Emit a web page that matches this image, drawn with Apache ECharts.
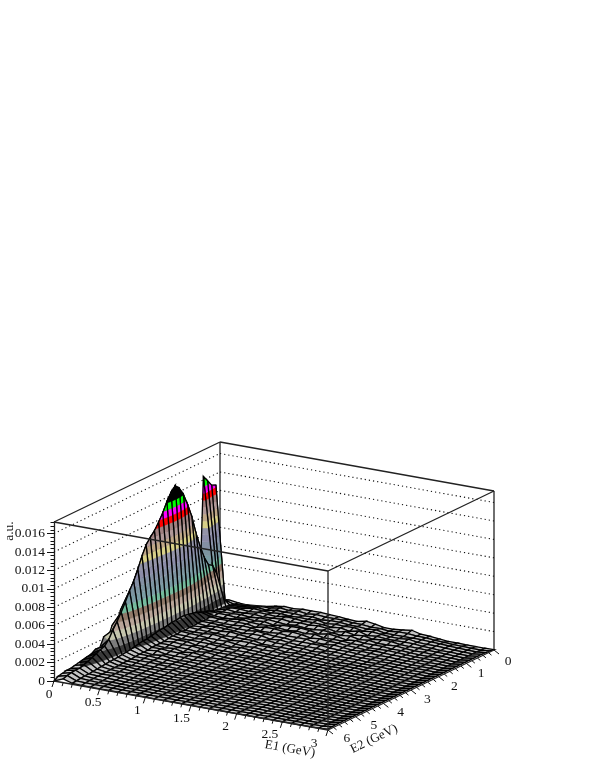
<!DOCTYPE html>
<html>
<head>
<meta charset="utf-8">
<script src="https://cdn.jsdelivr.net/npm/echarts@6/dist/echarts.min.js"></script>
<style>
  html, body { margin: 0; background: #fff; }
  #chart { width: 591px; height: 765px; }
</style>
</head>
<body>
<div id="chart"></div>
<script>
// node positions
const e1Nodes = [0,0.1,0.2,0.3,0.4,0.5,0.6,0.7,0.8,0.9,1,1.1,1.2,1.3,1.4,1.5,1.6,1.7,1.8,1.9,2,2.1,2.2,2.3,2.4,2.5,2.6,2.7,2.8,2.9,3];
const e2Nodes = [0,0.15,0.3,0.45,0.6,0.75,0.9,1.05,1.2,1.35,1.5,1.65,1.8,1.95,2.1,2.25,2.4,2.55,2.7,2.85,3,3.15,3.3,3.45,3.6,3.75,3.9,4.05,4.2,4.35,4.5,4.65,4.8,4.95,5.1,5.25,5.4,5.55,5.7,5.85,6];

// height per node, in units of 1e-4. One row per E1 node, one column per E2 node
const zRows = [
  [2,128,130,137,144,2,30,42,52,62,72,84,90,92,90,72,84,66,72,58,62,46,54,36,42,26,30,18,22,12,13,10,9,8,7,6,5,5,4,3,0],
  [3,5,12,38,49,52,62,76,93,113,128,141,150,155,150,142,132,124,117,112,106,96,84,73,65,55,46,38,31,23,18,16,14,12,10,8.5,7,7,6.5,5.5,4],
  [1.5,2,3,4,4.5,5,6,8,9,11,13,14,15,16,16,15,15,14,13,13,12,11,10,10,9,8,7,6.5,6,5.5,5,5,4.5,4,3.5,3,2.5,2.5,2,1.5,1],
  [1,3,4,5,6.5,7,6.5,7,6.5,8,6.5,7,7,6.5,7,6,7,6,6.5,6,5,5,5,5,4,4,4,3.5,3,3,3,2.5,2.5,2.5,2,2,2,1.5,1.5,1,0.5],
  [2,4,5,6,7,6,6.5,7,6,7,6.5,7,6,7,6.5,6,6.5,6,5,6,6,5,4,5,5,3,4,3.5,3,3,2,3,2.5,2,2,2,1.5,1,1,1,0.5],
  [3,5,6,7,6,6.5,7,6,6.5,7,6,6.5,7,6.5,6,6,6,5,5.5,6,5,4,5,4,3,4,3,3,3,2,2.5,2,2,2,1.5,1.5,1,1,0.8,0.8,0.4],
  [5,5,5,6.5,7,7,6,7,8,7,6,6,6.5,6,6,7,5,6,5,4,5,4,3,4,3,3,3,2,2.5,2,2,2,1.5,1.5,1,1,0.8,0.8,0.6,0.6,0.4],
  [6.5,7,6.5,6,6.5,6,7,6,6.5,7,7,6,6,7,5,6,5,4,5,4,4,3,4,3,3,2,2.5,2.5,2,1.5,2,1.5,1.5,1,1,0.8,0.8,0.6,0.6,0.5,0.3],
  [6,6,6.5,7,6,6.5,7,7,6,5,6.5,6,5,6,5,4,5,4,4,3,3,4,3,3,2,2.5,2,2,1.5,2,1.5,1,1,1,0.8,0.8,0.6,0.6,0.5,0.5,0.3],
  [7,7,6.5,6,8,7,6,5,6.5,7,5,7,6,5,5,5,4,3,4,3,3,3,2,2.5,2.5,2,1.5,2,1.5,1,1,1,0.8,0.8,0.8,0.5,0.5,0.4,0.4,0.4,0.3],
  [7,6,6,6.5,7,6,5,6.5,6,7,5,6,6,4,5,5,3,4,3,3,3,2,2.5,2.5,2,1.5,1.5,1.5,1,1,1,0.8,0.8,0.8,0.6,0.6,0.5,0.4,0.4,0.3,0.3],
  [7.2,7,6.5,6,6,6.5,6,7,5,6,6,5,4,5,3,4,4,3,3,2,2.5,2,2,1.5,1.5,1.5,1,1,1,0.8,0.8,0.8,0.6,0.6,0.5,0.4,0.4,0.3,0.3,0.3,0.2],
  [6.5,6,5,7,6.5,6,5,7,6,7,5,5,5,4,3,4,3,3,2.5,2,2.5,2,1.5,1.5,1,1,1.2,1,1,0.8,0.8,0.6,0.6,0.5,0.5,0.5,0.4,0.3,0.3,0.3,0.2],
  [6,6,6,5,6,7,5,6,5,6,5,4,4,4,3,3,3,2,2.5,2,2,1.5,1.5,1,1,1.2,1,0.8,0.8,0.8,0.6,0.6,0.5,0.5,0.5,0.4,0.3,0.3,0.2,0.2,0.2],
  [5,6,6,6,5,6,6,4,6,4,5,4,3,3,3,2,2.5,2,2,1.5,1.5,1.5,1,1,1.2,1,0.8,0.8,0.8,0.6,0.5,0.5,0.5,0.4,0.3,0.3,0.3,0.2,0.2,0.2,0.2],
  [4.5,5,5,5.5,6,4,5,6,4,5,3,4,3,3,2,2.5,2,2,1.5,1.5,1.5,1,1,1,1.2,1,0.8,0.8,0.6,0.6,0.5,0.5,0.4,0.4,0.3,0.3,0.3,0.2,0.2,0.2,0.2],
  [6.5,5,5,6,4,6,4,5,4,4,3,4,3,2,2.5,2,2,1.5,1.5,1.5,1,1,1,1,1,0.8,0.8,0.8,0.6,0.5,0.5,0.5,0.4,0.3,0.3,0.3,0.2,0.2,0.2,0.2,0.1],
  [5,4,4,4,6,4,5,3,4,4,4,3,2,2.5,2,2,1.5,1.5,1.5,1,1,1,1,0.8,0.8,0.8,0.6,0.5,0.5,0.5,0.4,0.3,0.3,0.3,0.2,0.2,0.2,0.2,0.1,0.1,0.1],
  [3,4,5,5,3,5,3,4,3,3,3,2.5,2.5,2,1.5,1.5,1.5,1,1,1,1,0.8,0.8,0.6,0.6,0.5,0.5,0.5,0.4,0.3,0.3,0.3,0.2,0.2,0.2,0.2,0.1,0.1,0.1,0.1,0.1],
  [3,3,3,4,4,3,4,3,3,2.5,2,2.5,2,1.5,1.5,1.5,1,1,1,1,0.8,0.8,0.6,0.6,0.5,0.5,0.5,0.4,0.3,0.3,0.3,0.2,0.2,0.2,0.2,0.1,0.1,0.1,0.1,0.1,0.1],
  [4,4,3,3,3,4,2.5,3,2,2,2.5,2,1.5,1.5,1.5,1,1,1,1,0.8,0.8,0.6,0.6,0.5,0.5,0.5,0.4,0.3,0.3,0.3,0.2,0.2,0.2,0.2,0.1,0.1,0.1,0.1,0.1,0.1,0.1],
  [5.5,4,3,3,3,4,2.5,3,2,2.5,2,1.5,1.5,1.5,1,1,1,1,0.8,0.8,0.6,0.6,0.5,0.5,0.5,0.4,0.3,0.3,0.3,0.2,0.2,0.2,0.2,0.1,0.1,0.1,0.1,0.1,0.1,0.1,0.1],
  [3,3,3,4,3,2.5,3,2,2.5,2,1.5,1.5,1.5,1,1,1,1,0.8,0.8,0.6,0.6,0.5,0.5,0.5,0.4,0.3,0.3,0.3,0.2,0.2,0.2,0.2,0.1,0.1,0.1,0.1,0.1,0.1,0.1,0.1,0.1],
  [2.5,3,3,2.5,3,2,2,2,2,1.5,1.5,1,1,1,1,0.8,0.8,0.8,0.6,0.5,0.5,0.5,0.4,0.3,0.3,0.3,0.2,0.2,0.2,0.2,0.1,0.1,0.1,0.1,0.1,0.1,0.1,0.1,0.1,0.1,0.1],
  [1.5,2,2.5,2,2,2,1.5,1.5,1.5,1.5,1,1,1,1,0.8,0.8,0.6,0.5,0.5,0.5,0.4,0.4,0.3,0.3,0.2,0.2,0.2,0.2,0.1,0.1,0.1,0.1,0.1,0.1,0.1,0.1,0.1,0.1,0.1,0.1,0.1],
  [0.5,1.5,2,2,1.5,1.5,1.5,1,1,1,1,1,0.8,0.8,0.6,0.5,0.5,0.5,0.4,0.3,0.3,0.3,0.2,0.2,0.2,0.2,0.1,0.1,0.1,0.1,0.1,0.1,0.1,0.1,0.1,0.1,0.1,0.1,0.1,0.1,0.1],
  [0.5,1,1.5,1.5,1,1.5,1,1,1,0.8,0.8,0.6,0.6,0.6,0.5,0.4,0.4,0.3,0.3,0.3,0.2,0.2,0.2,0.1,0.1,0.1,0.1,0.1,0.1,0.1,0.1,0.1,0.1,0.1,0.1,0.1,0.1,0.1,0.1,0.1,0.1],
  [0.3,0.8,1,1,1,1,0.8,0.8,0.8,0.6,0.6,0.5,0.5,0.5,0.4,0.4,0.3,0.3,0.2,0.2,0.2,0.1,0.1,0.1,0.1,0.1,0.1,0.1,0.1,0.1,0.1,0.1,0.1,0.1,0.1,0.1,0.1,0.1,0.1,0.1,0.1],
  [0.2,0.5,0.6,0.8,0.6,0.6,0.6,0.5,0.5,0.5,0.5,0.4,0.4,0.3,0.3,0.3,0.2,0.2,0.2,0.2,0.1,0.1,0.1,0.1,0.1,0.1,0.1,0.1,0.1,0.1,0.1,0.1,0.1,0.1,0.1,0.1,0.1,0.1,0.1,0.1,0.1],
  [0.2,0.3,0.4,0.5,0.5,0.4,0.4,0.4,0.4,0.4,0.3,0.3,0.3,0.3,0.3,0.3,0.2,0.2,0.2,0.2,0.2,0.2,0.2,0.2,0.2,0.2,0.2,0.2,0.2,0.2,0.2,0.2,0.2,0.2,0.2,0.2,0.2,0.2,0.2,0.2,0.2],
  [0.3,1.2,1.5,1.8,1.8,1.8,1.8,1.8,1.8,1.8,1.8,1.8,1.8,1.8,1.8,1.8,1.8,1.8,1.8,1.8,1.8,1.8,1.8,1.8,1.8,1.8,1.8,1.8,1.8,1.8,1.8,1.8,1.8,1.8,1.8,1.8,1.8,1.8,1.8,1.5,1]
];

// contour bands, bottom to top, each 7.4e-4 tall
const bandStep = 7.4;
const bandColors = ['#c4c4c4','#3a3a3a','#7c7c7c','#c4c4ac','#b8a498','#8f7868','#74ba9c','#7a9ca4','#7c94a0','#8490a4','#8c8ca8','#9494a8','#d8d088','#c0a888','#b09898','#a08080','#ff0000','#ff00ff','#00ff00','#000000'];

const zTicks = [0,0.002,0.004,0.006,0.008,0.01,0.012,0.014,0.016];
const e1Ticks = [0,0.1,0.2,0.3,0.4,0.5,0.6,0.7,0.8,0.9,1,1.1,1.2,1.3,1.4,1.5,1.6,1.7,1.8,1.9,2,2.1,2.2,2.3,2.4,2.5,2.6,2.7,2.8,2.9,3];
const e1Labels = ['0','0.5','1','1.5','2','2.5','3'];
const e2Ticks = [0,0.2,0.4,0.6,0.8,1,1.2,1.4,1.6,1.8,2,2.2,2.4,2.6,2.8,3,3.2,3.4,3.6,3.8,4,4.2,4.4,4.6,4.8,5,5.2,5.4,5.6,5.8,6];
const e2Labels = ['0','1','2','3','4','5','6'];

const e1Max = 3, e2Max = 6, zMax = 0.01725;
const font = '"Liberation Serif", serif';

// oblique projection: api.coord gives E1 across and z up, E2 is a shear on top of it
function project(api, e1, e2, z) {
  const p = api.coord([e1, z]);
  const back = (e2Max - e2) / e2Max;
  return [p[0] + 166 * back, p[1] + 49 * e1 / e1Max - 80 * back];
}

// cut a polygon of [e1,e2,z] to lo <= z <= hi
function clipBand(poly, lo, hi) {
  function cut(pts, keep, level) {
    const out = [];
    for (let n = 0; n < pts.length; n++) {
      const a = pts[n], b = pts[(n + 1) % pts.length];
      const ka = keep(a[2]), kb = keep(b[2]);
      if (ka) out.push(a);
      if (ka !== kb) {
        const t = (level - a[2]) / (b[2] - a[2]);
        out.push([a[0] + t * (b[0] - a[0]), a[1] + t * (b[1] - a[1]), level]);
      }
    }
    return out;
  }
  let res = cut(poly, v => v >= lo, lo);
  if (res.length) res = cut(res, v => v <= hi, hi);
  return res;
}

function renderCell(params, api) {
  const i = api.value(0), k = api.value(1);
  const quad = [[i, k], [i + 1, k], [i + 1, k + 1], [i, k + 1]].map(c => [e1Nodes[c[0]], e2Nodes[c[1]], zRows[c[0]][c[1]]]);
  const children = [];
  bandColors.forEach((color, b) => {
    const lo = b * bandStep;
    const hi = b === bandColors.length - 1 ? 1e9 : (b + 1) * bandStep;
    const part = clipBand(quad, lo, hi);
    if (part.length > 2) {
      children.push({
        type: 'polygon',
        shape: { points: part.map(q => project(api, q[0], q[1], q[2] * 1e-4)) },
        style: { fill: color, stroke: color, lineWidth: 0.4 },
        silent: true
      });
    }
  });
  children.push({
    type: 'polygon',
    shape: { points: quad.map(q => project(api, q[0], q[1], q[2] * 1e-4)) },
    style: { fill: 'none', stroke: '#000', lineWidth: 1.3 },
    silent: true
  });
  return { type: 'group', children };
}

// straight pieces of the box: [e1a,e2a,za,e1b,e2b,zb,dashed]
function renderEdge(params, api) {
  const a = project(api, api.value(0), api.value(1), api.value(2));
  const b = project(api, api.value(3), api.value(4), api.value(5));
  const dashed = api.value(6) === 1;
  return {
    type: 'line',
    shape: { x1: a[0], y1: a[1], x2: b[0], y2: b[1] },
    style: dashed ? { stroke: '#111', lineWidth: 1.1, lineDash: [1.2, 3] } : { stroke: '#222', lineWidth: 1.3 },
    silent: true
  };
}

const backEdges = [
  [0, 0, 0, 0, 0, zMax, 0],
  [0, 0, zMax, 0, e2Max, zMax, 0],
  [0, 0, zMax, e1Max, 0, zMax, 0],
  [e1Max, 0, 0, e1Max, 0, zMax, 0]
];
zTicks.slice(1).forEach(t => {
  backEdges.push([0, e2Max, t, 0, 0, t, 1]);
  backEdges.push([0, 0, t, e1Max, 0, t, 1]);
});
const frontEdges = [
  [0, e2Max, zMax, e1Max, e2Max, zMax, 0],
  [e1Max, e2Max, zMax, e1Max, 0, zMax, 0],
  [e1Max, e2Max, 0, e1Max, e2Max, zMax, 0],
  [0, e2Max, 0, e1Max, e2Max, 0, 0],
  [e1Max, e2Max, 0, e1Max, 0, 0, 0]
];

const cells = [];
for (let i = 0; i < e1Nodes.length - 1; i++) {
  for (let k = 0; k < e2Nodes.length - 1; k++) cells.push([i, k]);
}

function isMajor(v) { return Math.abs(v * 2 - Math.round(v * 2)) < 1e-6; }

function renderE1Tick(params, api) {
  const v = api.value(0);
  const p = project(api, v, e2Max, 0);
  const major = isMajor(v);
  return {
    type: 'line',
    shape: { x1: p[0], y1: p[1], x2: p[0] - (major ? 2 : 1), y2: p[1] + (major ? 6 : 3.5) },
    style: { stroke: '#111', lineWidth: 1 },
    silent: true
  };
}
function renderE2Tick(params, api) {
  const v = api.value(0);
  const p = project(api, e1Max, v, 0);
  const major = Number.isInteger(v);
  return {
    type: 'line',
    shape: { x1: p[0], y1: p[1], x2: p[0] + (major ? 5 : 3), y2: p[1] + (major ? 4 : 2.5) },
    style: { stroke: '#111', lineWidth: 1 },
    silent: true
  };
}
function renderE1Label(params, api) {
  const v = api.value(0);
  const p = project(api, v, e2Max, 0);
  return {
    type: 'text',
    style: { text: e1Labels[params.dataIndex], x: p[0] - 5 - 3 * v, y: p[1] + 13, font: '13.5px ' + font, fill: '#111', align: 'center', verticalAlign: 'middle' },
    silent: true
  };
}
function renderE2Label(params, api) {
  const v = api.value(0);
  const p = project(api, e1Max, v, 0);
  return {
    type: 'text',
    style: { text: e2Labels[params.dataIndex], x: p[0] + 14 + 0.83 * v, y: p[1] + 11 - 0.5 * v, font: '13.5px ' + font, fill: '#111', align: 'center', verticalAlign: 'middle' },
    silent: true
  };
}

const chart = echarts.init(document.getElementById('chart'), null, { renderer: 'canvas' });
chart.setOption({
  animation: false,
  backgroundColor: '#fff',
  grid: { left: 54, top: 522, width: 274, height: 159, containLabel: false },
  xAxis: { type: 'value', min: 0, max: e1Max, show: false },
  yAxis: {
    type: 'value',
    min: 0,
    max: zMax,
    interval: 0.002,
    axisLine: { show: true, lineStyle: { color: '#222', width: 1.3 } },
    axisTick: { show: true, length: 7, customValues: zTicks, lineStyle: { color: '#111' } },
    minorTick: { show: true, splitNumber: 5, length: 3.5, lineStyle: { color: '#111' } },
    axisLabel: { margin: 9, fontFamily: font, fontSize: 13.5, color: '#111', customValues: zTicks, formatter: v => String(v) },
    splitLine: { show: false }
  },
  series: [
    { type: 'custom', z: 1, renderItem: renderEdge, data: backEdges, clip: false, silent: true },
    { type: 'custom', z: 2, renderItem: renderCell, data: cells, clip: false, silent: true },
    { type: 'custom', z: 3, renderItem: renderEdge, data: frontEdges, clip: false, silent: true },
    { type: 'custom', z: 3, renderItem: renderE1Tick, data: e1Ticks.map(v => [v]), clip: false, silent: true },
    { type: 'custom', z: 3, renderItem: renderE2Tick, data: e2Ticks.map(v => [v]), clip: false, silent: true },
    { type: 'custom', z: 3, renderItem: renderE1Label, data: e1Labels.map(s => [Number(s)]), clip: false, silent: true },
    { type: 'custom', z: 3, renderItem: renderE2Label, data: e2Labels.map(s => [Number(s)]), clip: false, silent: true }
  ],
  graphic: [
    { type: 'text', x: 9, y: 531, rotation: Math.PI / 2, style: { text: 'a.u.', font: '13.5px ' + font, fill: '#111', align: 'center', verticalAlign: 'middle' } },
    { type: 'text', x: 290, y: 749, rotation: -10 * Math.PI / 180, style: { text: 'E1 (GeV)', font: '13px ' + font, fill: '#111', align: 'center', verticalAlign: 'middle' } },
    { type: 'text', x: 374, y: 739, rotation: 26 * Math.PI / 180, style: { text: 'E2 (GeV)', font: '13px ' + font, fill: '#111', align: 'center', verticalAlign: 'middle' } }
  ]
});
</script>
</body>
</html>
